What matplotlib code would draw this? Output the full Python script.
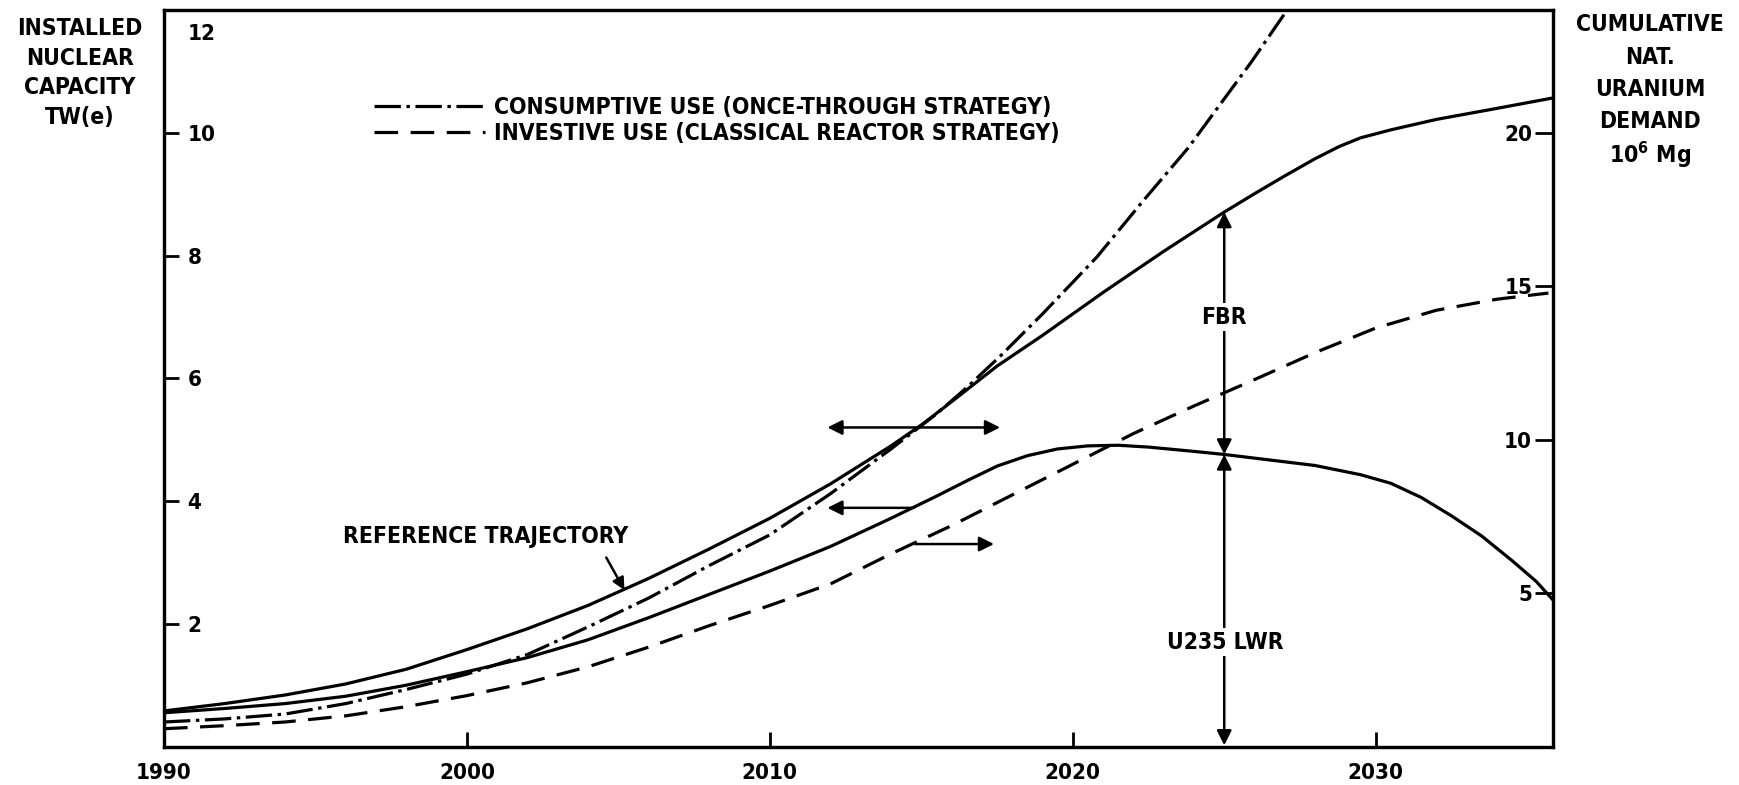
import matplotlib
matplotlib.use("Agg")
from matplotlib import pyplot as plt
from matplotlib.lines import Line2D
import matplotlib.transforms as mtransforms

plt.rcParams['font.family'] = ['DejaVu Sans']
plt.rcParams['font.weight'] = 'bold'
plt.rcParams['font.stretch'] = 'condensed'
plt.rcParams['mathtext.default'] = 'bf'
plt.rcParams['lines.scale_dashes'] = False

# data (years, installed capacity TW(e))
ref_years = [1990, 1992, 1994, 1996, 1998, 2000, 2002, 2004, 2006, 2008, 2010, 2012,
             2014, 2015, 2016, 2017.5, 2019, 2021, 2023, 2025, 2026, 2027, 2028,
             2028.8, 2029.5, 2030.5, 2032, 2034, 2035.85]
ref_vals = [0.58, 0.70, 0.84, 1.02, 1.26, 1.58, 1.92, 2.30, 2.74, 3.22, 3.72, 4.28,
            4.90, 5.24, 5.62, 6.20, 6.70, 7.40, 8.07, 8.71, 9.01, 9.30, 9.58,
            9.78, 9.92, 10.05, 10.22, 10.40, 10.57]

cons_years = [1990, 1992, 1994, 1996, 1998, 2000, 2002, 2004, 2006, 2008, 2010, 2012,
              2014, 2015.5, 2016.5, 2017.6, 2019, 2020.8, 2022.3, 2023.8, 2025.9,
              2027.1, 2027.6]
cons_vals = [0.40, 0.45, 0.53, 0.70, 0.93, 1.18, 1.50, 1.95, 2.42, 2.95, 3.45, 4.12,
             4.85, 5.42, 5.85, 6.36, 7.05, 7.98, 8.88, 9.75, 11.16,
             12.02, 12.35]

lwr_years = [1990, 1992, 1994, 1996, 1998, 2000, 2002, 2004, 2006, 2008, 2010, 2012,
             2014, 2015.5, 2016.5, 2017.5, 2018.5, 2019.5, 2020.5, 2021.5, 2022.5,
             2024, 2025, 2026.5, 2028, 2029.5, 2030.5, 2031.5, 2032.5, 2033.5,
             2034.5, 2035.3, 2035.85]
lwr_vals = [0.55, 0.62, 0.70, 0.82, 1.00, 1.22, 1.45, 1.74, 2.10, 2.48, 2.86, 3.26,
            3.72, 4.08, 4.33, 4.57, 4.74, 4.85, 4.90, 4.91, 4.88,
            4.81, 4.76, 4.67, 4.58, 4.43, 4.29, 4.06, 3.76, 3.43,
            3.03, 2.69, 2.39]

inv_years = [1990, 1992, 1994, 1996, 1998, 2000, 2002, 2004, 2006, 2008, 2010, 2012,
             2014, 2016, 2018, 2020, 2022, 2024, 2026, 2028, 2030, 2032, 2034, 2035.7]
inv_vals = [0.29, 0.34, 0.40, 0.50, 0.65, 0.83, 1.04, 1.30, 1.62, 1.97, 2.30, 2.65,
            3.14, 3.60, 4.10, 4.60, 5.10, 5.55, 5.98, 6.42, 6.82, 7.11, 7.29, 7.39]

x_ticks = [1990, 2000, 2010, 2020, 2030]
left_ticks = [2, 4, 6, 8, 10, 12]
right_ticks = [5, 10, 15, 20]

legend_labels = ['CONSUMPTIVE USE (ONCE-THROUGH STRATEGY)',
                 'INVESTIVE USE (CLASSICAL REACTOR STRATEGY)']

dashdot = (0, (19, 4, 2.5, 4))
dashed = (0, (17, 9))
lw = 2.3
fs = 16.5
tfs = 16

fig = plt.figure(figsize=(17.39, 7.85), dpi=100)
ax = fig.add_axes([0.0943, 0.049, 0.7987, 0.938])

ax.plot(ref_years, ref_vals, color='k', lw=lw, solid_capstyle='round',
        solid_joinstyle='round')
ax.plot(lwr_years, lwr_vals, color='k', lw=lw, solid_capstyle='round',
        solid_joinstyle='round')
ax.plot(cons_years, cons_vals, color='k', lw=lw, linestyle=dashdot)
ax.plot(inv_years, inv_vals, color='k', lw=lw, linestyle=dashed)

ax.set_xlim(1990, 2035.85)
ax.set_ylim(0, 12)
for s in ax.spines.values():
    s.set_linewidth(2.3)

ax.set_xticks(x_ticks)
ax.set_xticklabels([str(x) for x in x_ticks], fontsize=tfs)
ax.tick_params(axis='x', direction='in', length=11, width=2, pad=12)

ax.set_yticks(left_ticks)
ax.set_yticklabels([str(v) for v in left_ticks], fontsize=tfs)
ax.tick_params(axis='y', direction='in', length=11, width=2, pad=-17)
for lab in ax.get_yticklabels():
    lab.set_horizontalalignment('left')
top_lab = ax.get_yticklabels()[-1]
top_lab.set_verticalalignment('top')
top_lab.set_transform(top_lab.get_transform() +
                      mtransforms.ScaledTranslation(0, -10 / 72, fig.dpi_scale_trans))

ax2 = ax.twinx()
ax2.set_ylim(0, 24)
ax2.set_yticks(right_ticks)
ax2.set_yticklabels([str(v) for v in right_ticks], fontsize=tfs)
ax2.tick_params(axis='y', direction='in', length=13, width=2, pad=-15)
for lab in ax2.get_yticklabels():
    lab.set_horizontalalignment('right')
for s in ax2.spines.values():
    s.set_linewidth(2.3)

# legend
handles = [Line2D([], [], color='k', lw=lw, linestyle=dashdot),
           Line2D([], [], color='k', lw=lw, linestyle=dashed)]
ax.legend(handles, legend_labels, loc='upper left', bbox_to_anchor=(0.151, 0.883),
          frameon=False, fontsize=fs, handlelength=4.85, handletextpad=0.4,
          labelspacing=0.1, borderpad=0, borderaxespad=0)

# arrows
arrow_kw = dict(arrowstyle='<|-|>', color='k', lw=1.8, mutation_scale=22,
                shrinkA=0, shrinkB=0)
ax.annotate('', xy=(2011.9, 5.2), xytext=(2017.6, 5.2), arrowprops=arrow_kw)
ax.annotate('', xy=(2011.9, 3.89), xytext=(2014.75, 3.89),
            arrowprops=dict(arrow_kw, arrowstyle='-|>'))
ax.annotate('', xy=(2017.4, 3.3), xytext=(2014.8, 3.3),
            arrowprops=dict(arrow_kw, arrowstyle='-|>'))
ax.annotate('', xy=(2025, 8.71), xytext=(2025, 4.76), arrowprops=arrow_kw)
ax.annotate('', xy=(2025, 4.76), xytext=(2025, 0.02), arrowprops=arrow_kw)

ax.text(2025, 7.0, 'FBR', ha='center', va='center', fontsize=fs,
        bbox=dict(fc='white', ec='none', pad=2), zorder=5)
ax.text(2025.05, 1.7, 'U235 LWR', ha='center', va='center', fontsize=fs,
        bbox=dict(fc='white', ec='none', pad=2), zorder=5)

ax.annotate('REFERENCE TRAJECTORY', xy=(2005.2, 2.55), xytext=(1995.9, 3.43),
            fontsize=fs, ha='left', va='center')
ax.annotate('', xy=(2005.2, 2.55), xytext=(2004.6, 3.08),
            arrowprops=dict(arrow_kw, arrowstyle='-|>', mutation_scale=18))

fig.text(0.046, 0.978, 'INSTALLED\nNUCLEAR\nCAPACITY\nTW(e)', ha='center', va='top',
         fontsize=fs, linespacing=1.36)
fig.text(0.949, 0.983, 'CUMULATIVE\nNAT.\nURANIUM\nDEMAND', ha='center',
         va='top', fontsize=fs, linespacing=1.52)
fig.text(0.949, 0.803, '10$^6$ Mg', ha='center', va='center', fontsize=fs)

fig.savefig('out.png', dpi=100)
